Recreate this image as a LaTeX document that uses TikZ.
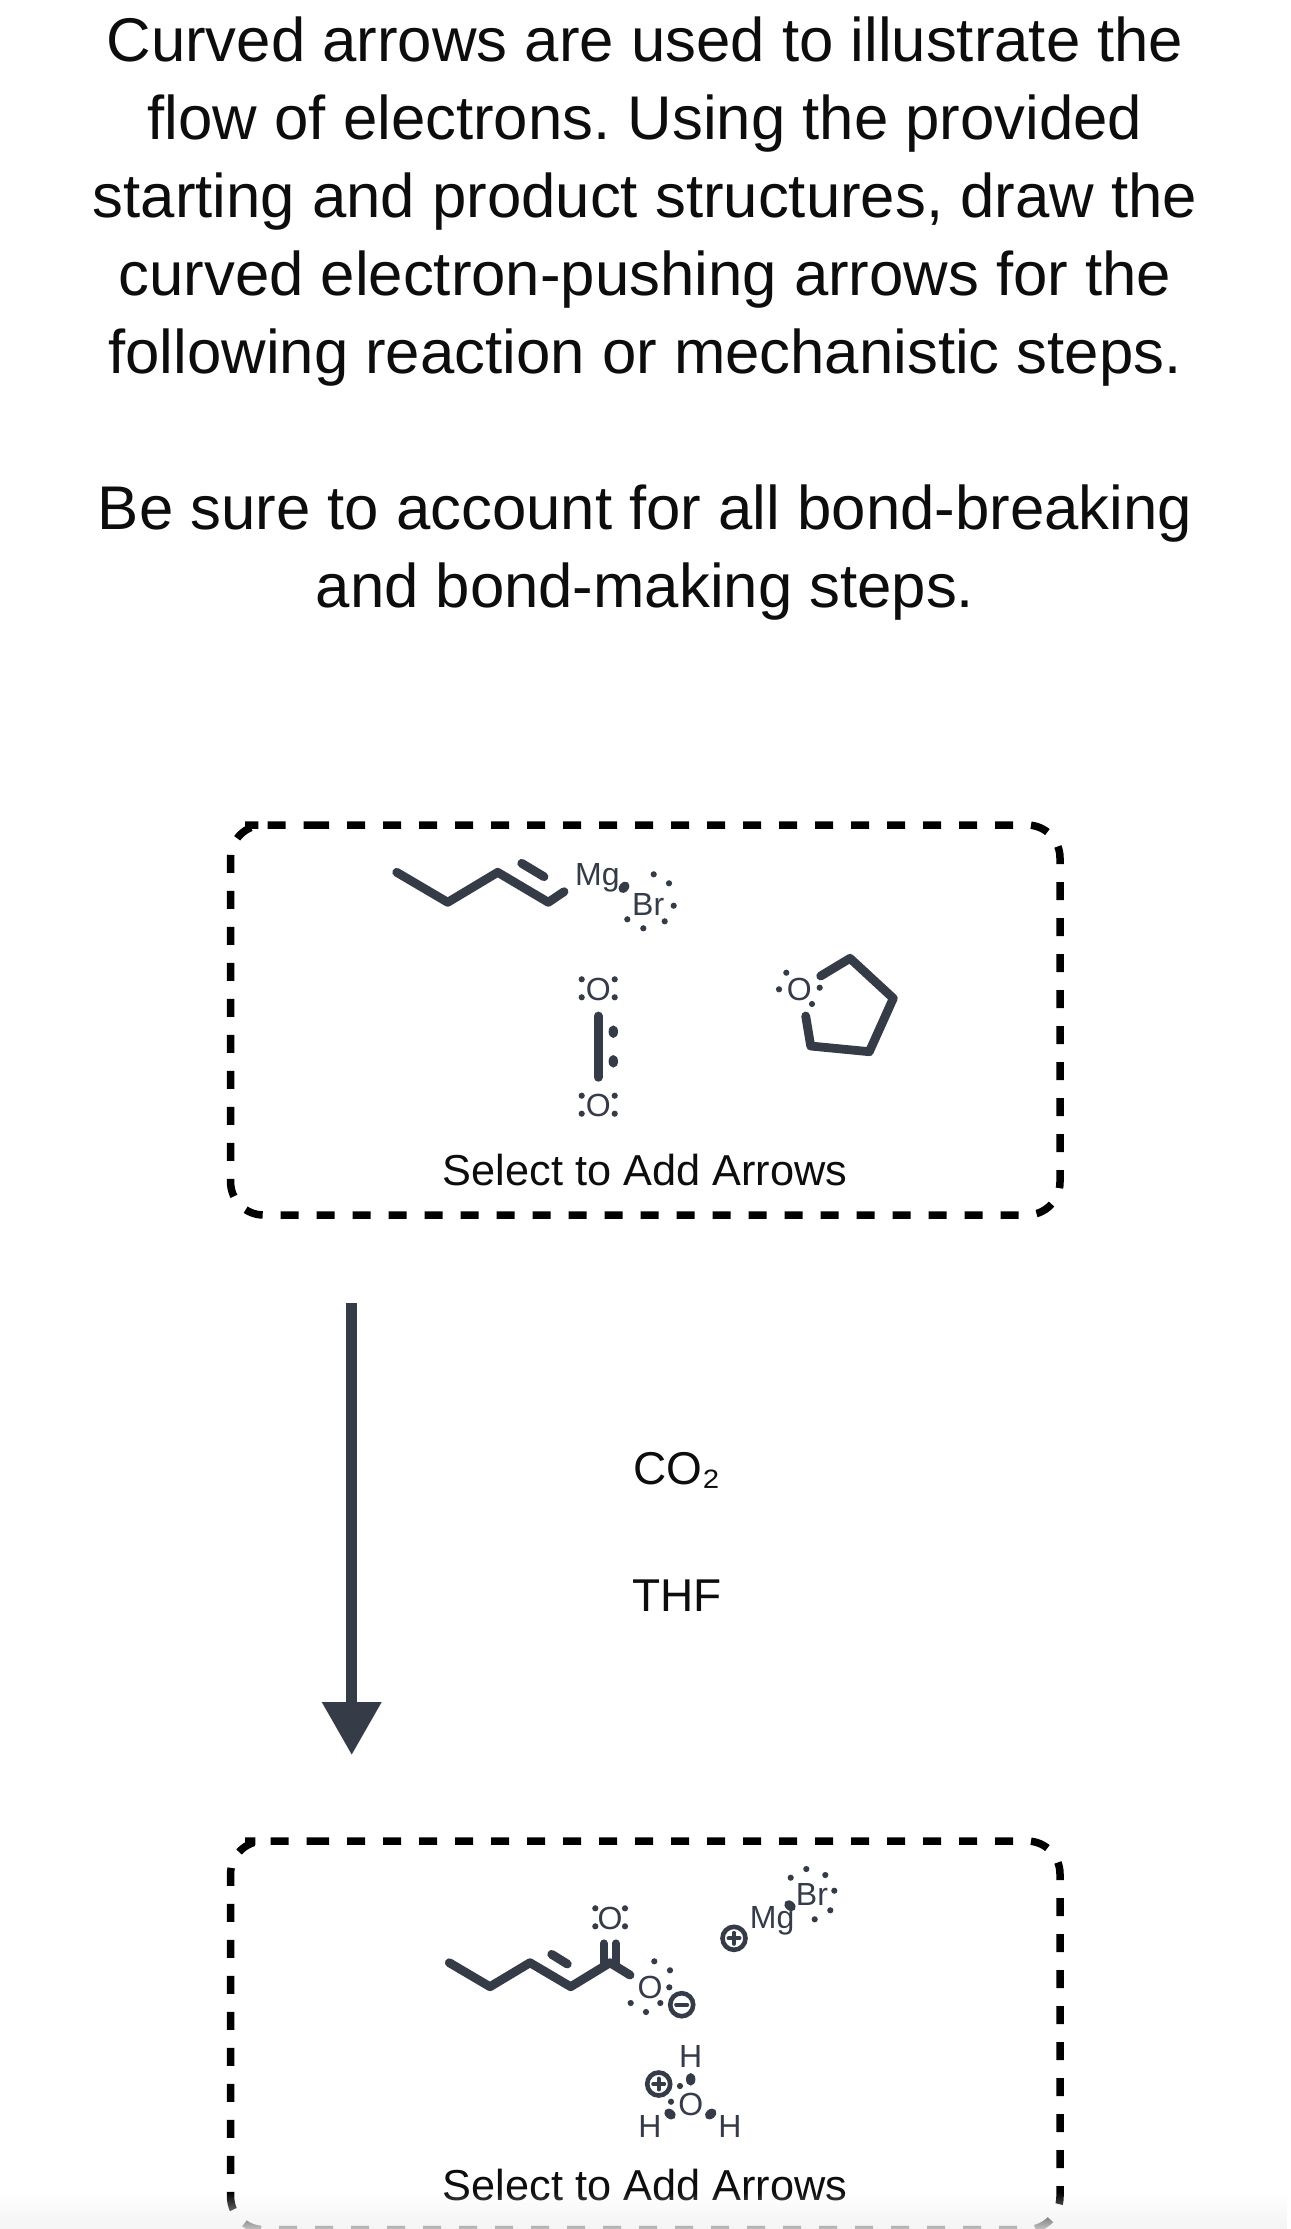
\documentclass[tikz,border=0pt]{standalone}
\usepackage{fontspec}
\setmainfont{Liberation Sans}
\usetikzlibrary{fadings}
\definecolor{ink}{HTML}{363C47}
\definecolor{txt}{HTML}{0D0D0D}
\definecolor{fog}{HTML}{F2F2F2}
\tikzfading[name=footfade,top color=transparent!100,bottom color=transparent!20]
\tikzset{
  x=1pt,y=-1pt,
  bond/.style={draw=ink,line width=8.8pt,line cap=round,line join=round},
  atom/.style={text=ink,inner sep=0pt,font=\fontsize{32}{32}\selectfont},
  base/.style={atom,anchor=base west},
  lp/.style={fill=ink,circle,inner sep=0pt,minimum size=6.2pt},
  frame/.style={draw=black,line width=7.5pt,rounded corners=33pt,dash pattern=on 18pt off 18pt},
  charge/.style={draw=ink,line width=4.6pt,circle,inner sep=0pt,minimum size=23pt},
  sign/.style={draw=ink,line width=4pt,line cap=round},
  label/.style={text=txt,inner sep=0pt,font=\fontsize{46}{46}\selectfont},
  hint/.style={text=txt,inner sep=0pt,font=\fontsize{43.3}{43.3}\selectfont}
}
\newcommand{\lps}[1]{\foreach \p in {#1}{\node[lp] at \p {};}}
\newcommand{\fatdot}[3]{\fill[ink,rotate around={#3:(#1,#2)}] (#1,#2) ellipse [x radius=4.7pt,y radius=6.3pt];}
\begin{document}
\begin{tikzpicture}
\useasboundingbox (0,0) rectangle (1290,2229);
\fill[white] (0,0) rectangle (1290,2229);
\node[text=txt,align=center,inner sep=0pt,font=\fontsize{61.7}{78}\selectfont\frenchspacing] (intro) at (645,319)
 {Curved arrows are used to illustrate the\\flow of electrons. Using the provided\\starting and product structures, draw the\\curved electron-pushing arrows for the\\following reaction or mechanistic steps.\\[78pt]Be sure to account for all bond-breaking\\and bond-making steps.};
% top frame
\draw[frame] (278,825) -- (1060,825) -- (1060,1215) -- (230.6,1215) -- (230.6,825) -- cycle;
\node[hint] (sel1) at (645,1170) {Select to Add Arrows};
% starting structures
\draw[bond] (396.7,872.3) -- (447.7,902.3) -- (497.7,872.3) -- (548.3,902.3) -- (564,891.7);
\draw[bond] (521.7,863.3) -- (544,876.7);
\node[base] (mg1) at (575,885.7) {Mg};
\node[base] (br1) at (632,915) {Br};
\fatdot{624}{887.3}{-40}
\lps{(653.7,874.3),(669,883.3),(673.7,905.7),(664.7,921.3),(643.3,928.3),(627.3,919.3)}
\node[atom] (o1) at (598.3,989.3) {O};
\node[atom] (o2) at (598.3,1105.7) {O};
\lps{(581.7,979.3),(581.7,997.3),(614.7,979.3),(614.7,997.3),(581.7,1095.7),(581.7,1113.7),(614.7,1095.7),(614.7,1113.7)}
\draw[bond] (598.3,1016) -- (598.3,1077.3);
\fatdot{613.3}{1031.7}{0}
\fatdot{613.3}{1061.3}{0}
\node[atom] (o3) at (799.3,989.3) {O};
\lps{(786.3,972.7),(779,989.3),(812,1004),(819.7,987.7)}
\draw[bond] (820.7,976) -- (850,958.3) -- (893.3,998.3) -- (869.3,1051.7) -- (810.7,1046) -- (805.7,1016);
% reaction arrow
\coordinate (arrA) at (351.3,1303);
\coordinate (arrB) at (351.3,1705);
\draw[ink,line width=10.6pt] (arrA) -- (arrB);
\fill[ink] (321.7,1702) -- (381.7,1702) -- (351.7,1754.5) -- cycle;
\node[label] (co2) at (677,1470) {CO₂};
\node[label] (thf) at (677,1596) {THF};
% bottom frame
\draw[frame] (278,1841) -- (1060,1841) -- (1060,2229.5) -- (230.6,2229.5) -- (230.6,1841) -- cycle;
\node[hint] (sel2) at (645,2185) {Select to Add Arrows};
% product structures
\draw[bond] (449.3,1962.7) -- (490,1986.7) -- (530,1962.7) -- (570.7,1986.7) -- (610,1962.7) -- (630,1975);
\draw[bond] (551.7,1954.3) -- (567.3,1964);
\draw[bond,line width=7.8pt] (603.7,1943.3) -- (603.7,1965);
\draw[bond,line width=7.8pt] (615.7,1943.3) -- (615.7,1965);
\node[atom] (o4) at (610,1918.3) {O};
\lps{(595.3,1908.3),(595.3,1926.3),(625,1908.3),(625,1926.3)}
\node[atom] (o5) at (650,1987.7) {O};
\lps{(654.3,1961.3),(670,1970.3),(669.3,1987.3),(660.3,2003),(646,2012),(630.7,2003)}
\node[charge] (neg) at (681.7,2004.7) {};
\draw[sign] (676.2,2004.7) -- (687.2,2004.7);
\node[charge] (pos1) at (734,1938.3) {};
\draw[sign] (728.5,1938.3) -- (739.5,1938.3) (734,1932.8) -- (734,1943.8);
\node[base] (mg2) at (749.7,1928.3) {Mg};
\node[base] (br2) at (795.7,1905) {Br};
\fatdot{790}{1905.7}{50}
\lps{(790.7,1877.7),(806.3,1869),(825.3,1875),(834.3,1890.7),(830.3,1910.3),(814.7,1919.3)}
\node[atom] (hh1) at (690.7,2056.7) {H};
\node[atom] (hh2) at (650,2126.7) {H};
\node[atom] (hh3) at (730,2126.7) {H};
\node[atom] (o6) at (690.7,2104) {O};
\fatdot{690.7}{2079.3}{0}
\fatdot{670}{2114}{50}
\fatdot{710.7}{2114}{-50}
\lps{(680,2086),(671,2101.7)}
\node[charge] (pos2) at (658.7,2084) {};
\draw[sign] (653.2,2084) -- (664.2,2084) (658.7,2078.5) -- (658.7,2089.5);
% fog at the foot of the page
\fill[fog,path fading=footfade] (0,2192) rectangle (1290,2229);
\end{tikzpicture}
\end{document}
